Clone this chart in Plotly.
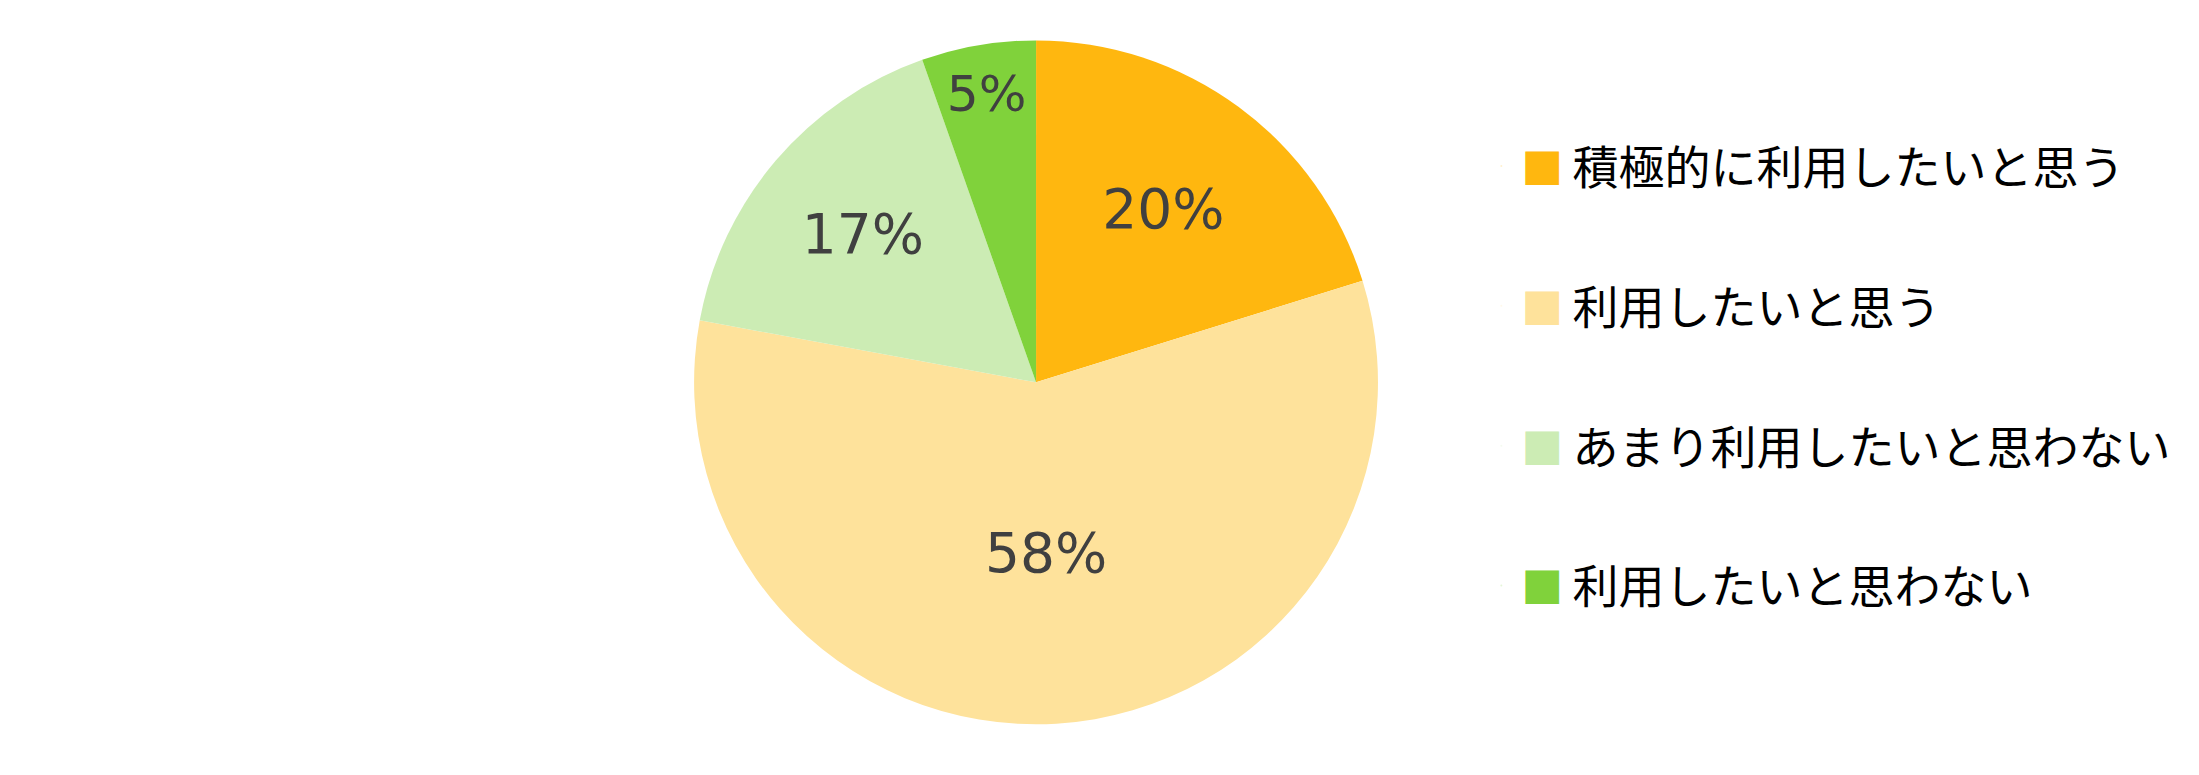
import plotly.graph_objects as go

categories = ["積極的に利用したいと思う", "利用したいと思う", "あまり利用したいと思わない", "利用したいと思わない"]
values = [20.2, 57.7, 16.7, 5.4]
colors = ["#FFB70F", "#FEE29B", "#CCECB4", "#80D23B"]

fig = go.Figure()
fig.add_trace(go.Pie(
    labels=categories,
    values=values,
    sort=False,
    direction="clockwise",
    rotation=0,
    marker=dict(colors=colors, line=dict(width=0)),
    texttemplate="%{percent:.0%}",
    textposition="inside",
    insidetextorientation="horizontal",
    textfont=dict(family="DejaVu Sans", size=55, color="#404040"),
    showlegend=False,
    hoverinfo="label+percent",
    domain=dict(x=[0.312, 0.623], y=[0.075, 0.959]),
))

for name, c in zip(categories, colors):
    fig.add_trace(go.Scatter(
        x=[None], y=[None], mode="markers",
        marker=dict(color=c, opacity=0, size=1),
        name=f"<span style='color:{c};font-size:42px'>■</span>\u2009{name}",
        legendgroup=name,
        showlegend=True,
    ))

fig.update_layout(
    width=2199, height=775,
    margin=dict(l=0, r=0, t=0, b=0),
    paper_bgcolor="white", plot_bgcolor="white",
    xaxis=dict(visible=False), yaxis=dict(visible=False),
    legend=dict(
        x=0.67, y=0.525, xanchor="left", yanchor="middle",
        font=dict(family="Noto Sans CJK JP", size=46, color="#000000"),
        tracegroupgap=77, itemclick=False, itemdoubleclick=False,
    ),
)

fig.write_html("out.html")
